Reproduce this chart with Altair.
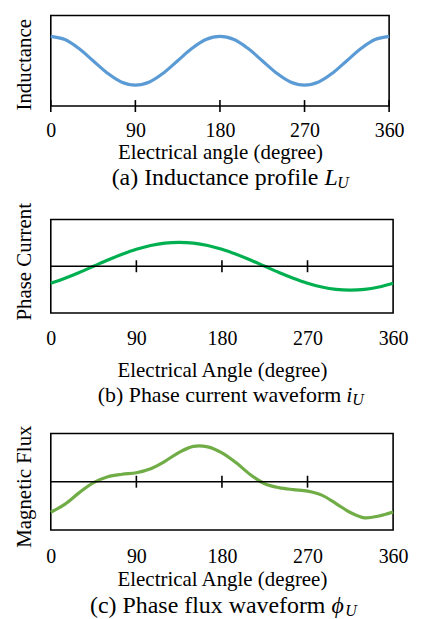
import altair as alt
import pandas as pd

FONT = "Liberation Serif"

# ---- data (arbitrary units) ----
angle = [0, 15, 30, 45, 60, 75, 90, 105, 120, 135, 150, 165, 180,
         195, 210, 225, 240, 255, 270, 285, 300, 315, 330, 345, 360]

inductance = [1.00, 0.87, 0.50, 0.00, -0.50, -0.87, -1.00, -0.87, -0.50, 0.00, 0.50, 0.87, 1.00,
              0.87, 0.50, 0.00, -0.50, -0.87, -1.00, -0.87, -0.50, 0.00, 0.50, 0.87, 1.00]

current = [-0.71, -0.50, -0.26, 0.00, 0.26, 0.50, 0.71, 0.87, 0.97, 1.00, 0.97, 0.87, 0.71,
           0.50, 0.26, 0.00, -0.26, -0.50, -0.71, -0.87, -0.97, -1.00, -0.97, -0.87, -0.71]

flux = [-30.7, -22.5, -11.0, -1.0, 5.0, 7.5, 9.0, 13.0, 20.5, 29.5, 35.5, 35.0, 29.0,
        19.0, 7.0, -2.0, -6.0, -8.0, -9.5, -13.5, -22.0, -31.0, -36.3, -34.5, -30.5]

tick_values = [0, 90, 180, 270, 360]
inner_ticks = [90, 180, 270]

df = pd.DataFrame({"angle": angle, "L": inductance, "i": current, "phi": flux})


def panel(col, color, ylabel, ydom, xtitle, width, box_h, top_off, caption, var, sub,
          cap_size, cap_x, var_x, sub_x, cap_y, title_y, label_pad, title_pad, mid_axis):
    height = box_h + top_off
    lo, hi = ydom
    hi_ext = hi + (hi - lo) * top_off / box_h
    yscale = alt.Scale(domain=[lo, hi_ext], nice=False, zero=False)
    xscale = alt.Scale(domain=[0, 360], nice=False, zero=False)
    x = alt.X("angle:Q", scale=xscale,
              axis=alt.Axis(values=tick_values, format="d", ticks=False, domain=False,
                            grid=False, labelFlush=False, labelFont=FONT, labelFontSize=20,
                            labelColor="black", labelPadding=label_pad,
                            title=xtitle, titleFont=FONT, titleFontSize=21,
                            titleFontWeight="normal", titleColor="black",
                            titlePadding=title_pad))
    y = alt.Y(f"{col}:Q", scale=yscale,
              axis=alt.Axis(labels=False, ticks=False, domain=False, grid=False,
                            title=ylabel, titleFont=FONT, titleFontSize=21,
                            titleFontWeight="normal", titleColor="black",
                            titlePadding=16, titleY=title_y))
    one = pd.DataFrame({"k": [0]})
    box = alt.Chart(one).mark_rect(filled=False, stroke="black", strokeWidth=1.6).encode(
        x=alt.value(0), x2=alt.value(width), y=alt.value(top_off), y2=alt.value(height))
    line = alt.Chart(df).mark_line(color=color, strokeWidth=3.2,
                                   interpolate="catmull-rom").encode(x=x, y=y)
    layers = []
    if mid_axis:
        zero = alt.Chart(pd.DataFrame({"z": [0]})).mark_rule(
            color="black", strokeWidth=1.6).encode(
            y=alt.Y("z:Q", scale=yscale),
            x=alt.value(0), x2=alt.value(width))
        mid = top_off + box_h / 2
        tks = alt.Chart(pd.DataFrame({"angle": inner_ticks})).mark_rule(
            color="black", strokeWidth=1.6).encode(
            x=alt.X("angle:Q", scale=xscale),
            y=alt.value(mid - 6), y2=alt.value(mid + 6))
        layers += [zero, tks]
    else:
        tks = alt.Chart(pd.DataFrame({"angle": tick_values})).mark_rule(
            color="black", strokeWidth=1.6).encode(
            x=alt.X("angle:Q", scale=xscale),
            y=alt.value(height - 6), y2=alt.value(height + 6))
        layers += [tks]
    cap = alt.Chart(one).mark_text(text=caption, font=FONT, fontSize=cap_size, align="right",
                                   baseline="middle", color="black").encode(
        x=alt.value(cap_x), y=alt.value(top_off + cap_y))
    v = alt.Chart(one).mark_text(text=var, font=FONT, fontSize=cap_size, fontStyle="italic",
                                 align="left", baseline="middle", color="black").encode(
        x=alt.value(var_x), y=alt.value(top_off + cap_y))
    s = alt.Chart(one).mark_text(text=sub, font=FONT, fontSize=16, fontStyle="italic",
                                 align="left", baseline="middle", color="black").encode(
        x=alt.value(sub_x), y=alt.value(top_off + cap_y + 5))
    return alt.layer(box, line, *layers, cap, v, s).properties(width=width, height=height)


pa = panel("L", "#5B9BD5", "Inductance", [-1.857, 1.857], "Electrical angle (degree)",
           340, 91, 0, "(a) Inductance profile", "L", "U",
           24, 269, 275, 288, 163, 49, 15, 1, False)
pb = panel("i", "#00B050", "Phase Current", [-1.96, 1.96], "Electrical Angle (degree)",
           344, 94, 0, "(b) Phase current waveform", "i", "U",
           22, 292, 297, 303, 176, 42, 16, 11, True)
pc = panel("phi", "#70AD47", "Magnetic Flux", [-48.5, 48.5], "Electrical Angle (degree)",
           344, 97, 7, "(c) Phase flux waveform", "\u03d5", "U",
           24, 276, 282, 296, 173, 60, 17, 2, True)

chart = alt.vconcat(pa, pb, pc, spacing=114, bounds="flush").properties(
    padding={"left": 5, "top": 5, "right": 5, "bottom": 5}
).configure_view(stroke=None)

chart.save("out.html", embed_options={"renderer": "svg", "actions": False})
